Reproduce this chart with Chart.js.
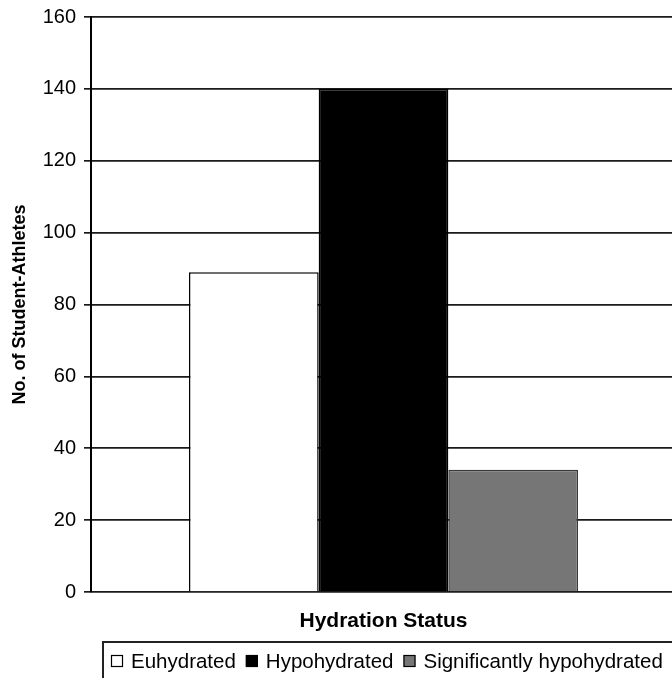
<!DOCTYPE html>
<html>
<head>
<meta charset="utf-8">
<script src="https://cdn.jsdelivr.net/npm/chart.js@4/dist/chart.umd.min.js"></script>
<style>
  html, body { margin: 0; padding: 0; background: #fff; overflow: hidden; }
  #wrap { width: 680px; height: 678px; }
</style>
</head>
<body>
<div id="wrap"><canvas id="chart" width="680" height="678"></canvas></div>
<script>
// Data
const categories = ['Hydration Status'];
const seriesNames = ['Euhydrated', 'Hypohydrated', 'Significantly hypohydrated'];
const seriesValues = [[89], [140], [34]];
const seriesColors = ['#ffffff', '#000000', '#767676'];
const yTicks = [0, 20, 40, 60, 80, 100, 120, 140, 160];

const FONT = 'Arial, "Liberation Sans", sans-serif';

// legend in a bordered box under the axis title
const boxedLegend = {
  id: 'boxedLegend',
  afterDraw(chart) {
    const ctx = chart.ctx;
    ctx.save();
    ctx.font = '20.5px ' + FONT;
    ctx.textBaseline = 'middle';
    const sq = 12, gapAfterBox = 8, gapItem = 10;
    const widths = seriesNames.map(n => ctx.measureText(n).width);
    const total = widths.reduce((s, w) => s + sq + gapAfterBox + w, 0) + gapItem * (widths.length - 1);
    let x = chart.chartArea.left + 20;
    const y = 661;

    ctx.strokeStyle = '#222';
    ctx.lineWidth = 2;
    ctx.strokeRect(x - 8, 642, total + 20, 50);

    chart.data.datasets.forEach((ds, i) => {
      ctx.fillStyle = ds.backgroundColor;
      ctx.fillRect(x, y - 6, sq, sq);
      ctx.strokeStyle = '#000';
      ctx.lineWidth = 1.2;
      ctx.strokeRect(x + 0.5, y - 5.5, sq - 1, sq - 1);
      ctx.fillStyle = '#000';
      ctx.fillText(ds.label, x + sq + gapAfterBox, y + 1);
      x += sq + gapAfterBox + widths[i] + gapItem;
    });
    ctx.restore();
  }
};

new Chart(document.getElementById('chart'), {
  type: 'bar',
  data: {
    labels: categories,
    datasets: seriesNames.map((name, i) => ({
      label: name,
      data: seriesValues[i],
      backgroundColor: seriesColors[i],
      borderColor: i === 2 ? '#3a3a3a' : '#000',
      borderWidth: 1.5,
      categoryPercentage: 0.665,
      barPercentage: 1
    }))
  },
  options: {
    responsive: false,
    animation: false,
    devicePixelRatio: 1,
    layout: { padding: { top: 17, right: 4, bottom: 35, left: 0 } },
    plugins: {
      legend: { display: false },
      tooltip: { enabled: false }
    },
    scales: {
      x: {
        afterFit: s => { s.height = 51; },
        grid: { display: false, drawTicks: false, tickLength: 0 },
        border: { display: false },
        ticks: { display: false },
        title: {
          display: true,
          text: 'Hydration Status',
          color: '#000',
          font: { family: FONT, size: 21, weight: 'bold' },
          padding: { top: 10, bottom: 9 }
        }
      },
      y: {
        min: 0,
        max: 160,
        afterFit: s => { s.width = 91; s.paddingTop = 0; s.paddingBottom = 0; },
        afterBuildTicks: s => { s.ticks = yTicks.map(v => ({ value: v })); },
        ticks: {
          color: '#000',
          padding: 8,
          font: { family: FONT, size: 20 }
        },
        grid: {
          color: '#1a1a1a',
          lineWidth: 1.7,
          tickLength: 7,
          drawTicks: true
        },
        border: { display: true, color: '#000', width: 2 },
        title: {
          display: true,
          text: 'No. of Student-Athletes',
          color: '#000',
          font: { family: FONT, size: 18, weight: 'bold' },
          padding: { top: 9, bottom: 0 }
        }
      }
    }
  },
  plugins: [boxedLegend]
});
</script>
</body>
</html>
